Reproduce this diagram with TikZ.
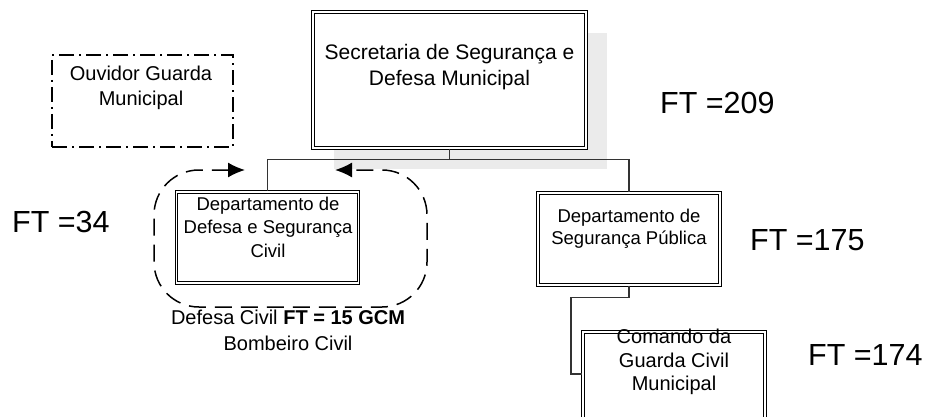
\documentclass[tikz,border=0pt]{standalone}
\usepackage{fontspec}
\setmainfont{Liberation Sans}
\usetikzlibrary{arrows.meta,shadows}

\begin{document}
\begin{tikzpicture}[x=1pt, y=-1pt,
  caixa/.style={draw, double, double distance=1.6pt, line width=1.1pt, minimum width=182pt, minimum height=91pt, inner sep=0pt},
  rotulo/.style={align=center, inner sep=0pt},
  liga/.style={line width=1.8pt, draw=black!80},
  laco/.style={dash pattern=on 17pt off 9pt, line width=1.5pt, rounded corners=45pt, <->, >={Latex[length=17pt,width=15pt]}},
  ft/.style={font=\fontsize{30.5}{36}\selectfont, anchor=west, inner sep=0pt}]

\useasboundingbox (0,0) rectangle (937,417);
\clip (0,0) rectangle (937,417);

% caixas
\node[caixa, minimum width=273pt, minimum height=136pt, fill=white,
      drop shadow={shadow xshift=21pt, shadow yshift=-21pt, fill=black!8, opacity=1}] (sec) at (449.5,80) {};
\node[rotulo, font=\fontsize{21}{26}\selectfont] (sectxt) at (449.5,67) {Secretaria de Segurança e\\Defesa Municipal};

\node[draw, line width=1.5pt, dash pattern=on 15pt off 5pt on 2pt off 5pt, minimum width=181pt, minimum height=92pt] (ouv) at (142.5,101) {};
\node[rotulo, font=\fontsize{20}{25}\selectfont] (ouvtxt) at (141,87.5) {Ouvidor Guarda\\Municipal};

\node[caixa] (dc) at (267.5,237.5) {};
\node[rotulo, font=\fontsize{18.5}{23.5}\selectfont] (dctxt) at (268,227) {Departamento de\\Defesa e Segurança\\Civil};

\node[caixa, minimum height=92pt] (dsp) at (629,239) {};
\node[rotulo, font=\fontsize{18.5}{22}\selectfont] (dsptxt) at (629,229) {Departamento de\\Segurança Pública};

\node[caixa, minimum height=110pt] (cmd) at (674,387) {};
\node[rotulo, font=\fontsize{20}{23.5}\selectfont] (cmdtxt) at (674,362) {Comando da\\Guarda Civil\\Municipal};

% ligacoes
\draw[liga] (sec.south) -- ++(0,11) coordinate (j) -| (dc.north);
\draw[liga] (j) -| (dsp.north);
\draw[liga] (dsp.south) -- ++(0,12) -- ++(-58,0) |- ([yshift=13pt]cmd.west);

% laco tracejado
\coordinate (la) at (245,170);
\coordinate (lb) at (335,170);
\draw[laco] (la) -- (154,170) -- (154,307) -- (427,307) -- (427,170) -- (lb);

\node[rotulo, font=\fontsize{20}{26}\selectfont] (dcinfo) at (288,330) {Defesa Civil \textbf{FT = 15 GCM}\\Bombeiro Civil};

% efetivos
\node[ft] (ft209) at (660,103) {FT =209};
\node[ft] (ft34) at (12,222) {FT =34};
\node[ft] (ft175) at (750,240) {FT =175};
\node[ft] (ft174) at (808,355) {FT =174};
\end{tikzpicture}
\end{document}
